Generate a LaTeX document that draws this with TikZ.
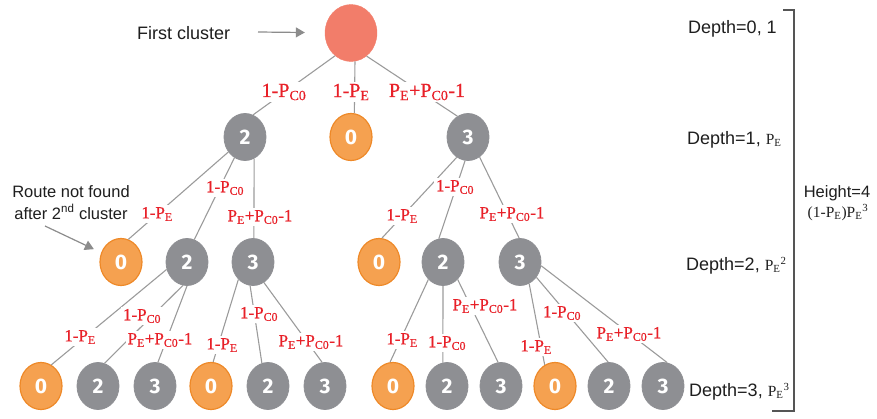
\documentclass[tikz,border=0pt]{standalone}
\usepackage{fontspec}
\setmainfont{Liberation Sans}
\newfontfamily\numfont{Fira Sans}
\newfontfamily\probfont{Liberation Serif}[FakeBold=0.6]
\newfontfamily\formulafont{Liberation Serif}
\usetikzlibrary{shapes.geometric,arrows.meta}
\definecolor{nodegray}{RGB}{142,143,147}
\definecolor{leaforange}{RGB}{245,161,80}
\definecolor{leafedge}{RGB}{238,137,40}
\definecolor{rootred}{RGB}{242,125,106}
\definecolor{edgegray}{RGB}{155,155,155}
\definecolor{probred}{RGB}{232,32,40}
\definecolor{textdark}{RGB}{30,30,30}
\definecolor{bracketgray}{RGB}{85,85,85}
\definecolor{pointergray}{RGB}{140,140,140}
\newcommand\probE{P\textsubscript{E}}
\newcommand\probC{P\textsubscript{C0}}
\newcommand\serifpart[1]{{\formulafont\fontsize{15.5}{15.5}\selectfont #1}}
\begin{document}
\begin{tikzpicture}[x=1pt,y=-1pt,
  cluster/.style={ellipse, minimum width=42pt, minimum height=47pt, inner sep=0pt,
    text=white, font=\numfont\bfseries\fontsize{21}{21}\selectfont},
  relay/.style={cluster, fill=nodegray, draw=nodegray, line width=0.8pt},
  fail/.style={cluster, fill=leaforange, draw=leafedge, line width=1.2pt},
  origin/.style={cluster, fill=rootred, draw=rootred, minimum width=52pt, minimum height=57pt},
  link/.style={draw=edgegray, line width=1.1pt},
  prob/.style={fill=white, inner sep=2pt, text=probred, font=\probfont\fontsize{17}{17}\selectfont},
  probtop/.style={prob, font=\probfont\fontsize{20}{20}\selectfont},
  note/.style={text=textdark, inner sep=0pt, font=\fontsize{18}{18}\selectfont},
  pointer/.style={draw=pointergray, line width=1.2pt, -{Triangle[length=9pt,width=10pt]}}
]
\useasboundingbox (0,0) rectangle (877,418);

% tree of clusters
\node[origin] (r) at (351,33) {};
\node[relay] (a2) at (245,137) {2};
\node[fail]  (a0) at (351,137) {0};
\node[relay] (a3) at (468,137) {3};

\node[fail]  (b0) at (121,262) {0};
\node[relay] (b2) at (187,262) {2};
\node[relay] (b3) at (253,262) {3};
\node[fail]  (c0) at (379,262) {0};
\node[relay] (c2) at (443,262) {2};
\node[relay] (c3) at (520,262) {3};

\node[fail]  (d0) at (41,386) {0};
\node[relay] (d2) at (98,386) {2};
\node[relay] (d3) at (155,386) {3};
\node[fail]  (e0) at (211,386) {0};
\node[relay] (e2) at (268,386) {2};
\node[relay] (e3) at (325,386) {3};
\node[fail]  (f0) at (393,386) {0};
\node[relay] (f2) at (447,386) {2};
\node[relay] (f3) at (501,386) {3};
\node[fail]  (g0) at (555,386) {0};
\node[relay] (g2) at (609,386) {2};
\node[relay] (g3) at (663,386) {3};

% branches
\draw[link] (r.-125) -- (a2.70);
\draw[link] (r.-82) -- (a0.82);
\draw[link] (r.-56) -- (a3.117);
\draw[link] (a2.-138) -- (b0.72);
\draw[link] (a2.-117) -- (b2.72);
\draw[link] (a2.-67) -- (b3.88);
\draw[link] (a3.-119) -- (c0.83);
\draw[link] (a3.-97) -- (c2.100);
\draw[link] (a3.-60) -- (c3.92);
\draw[link] (b2.-160) -- (d0.64);
\draw[link] (b2.-100) -- (d2.74);
\draw[link] (b2.-90) -- (d3.83);
\draw[link] (b3.-130) -- (e0.85);
\draw[link] (b3.-97) -- (e2.105);
\draw[link] (b3.-62) -- (e3.97);
\draw[link] (c2.-130) -- (f0.97);
\draw[link] (c2.-90) -- (f2.100);
\draw[link] (c2.-50) -- (f3.97);
\draw[link] (c3.-67) -- (g0.116);
\draw[link] (c3.-43) -- (g2.92);
\draw[link] (c3.-10) -- (g3.80);

% branch probabilities
\node[probtop] (pr2) at (284,92) {1-\probC};
\node[probtop] (pr0) at (351,92) {1-\probE};
\node[probtop] (pr3) at (427,92) {\probE+\probC-1};
\node[prob] (pa0) at (157,214) {1-\probE};
\node[prob] (pa2) at (225,188) {1-\probC};
\node[prob] (pa3) at (260,217) {\probE+\probC-1};
\node[prob] (pc0) at (402,216) {1-\probE};
\node[prob] (pc2) at (455,187) {1-\probC};
\node[prob] (pc3) at (512,214) {\probE+\probC-1};
\node[prob] (pd0) at (80,337) {1-\probE};
\node[prob] (pd2) at (142,316) {1-\probC};
\node[prob] (pd3) at (160,340) {\probE+\probC-1};
\node[prob] (pe0) at (222,345) {1-\probE};
\node[prob] (pe2) at (259,314) {1-\probC};
\node[prob] (pe3) at (311,342) {\probE+\probC-1};
\node[prob] (pf0) at (402,340) {1-\probE};
\node[prob] (pf2) at (447,343) {1-\probC};
\node[prob] (pf3) at (485,306) {\probE+\probC-1};
\node[prob] (pg0) at (536,347) {1-\probE};
\node[prob] (pg2) at (562,313) {1-\probC};
\node[prob] (pg3) at (629,334) {\probE+\probC-1};

% annotations on the left
\node[note, anchor=base west] (first) at (137,39) {First cluster};
\coordinate (firsttail) at (258,32);
\draw[pointer, shorten >=20pt] (firsttail) -- (r);

\node[note, anchor=base, font=\fontsize{16.5}{16.5}\selectfont] (route1) at (71,197) {Route not found};
\node[note, anchor=base, font=\fontsize{16.5}{16.5}\selectfont] (route2) at (71,219) {after 2\textsuperscript{nd} cluster};
\coordinate (routetail) at (45,226);
\draw[pointer, shorten >=8pt] (routetail) -- (b0);

% depth probabilities on the right
\node[note, anchor=base west] (dep0) at (688,33) {Depth=0, 1};
\node[note, anchor=base west] (dep1) at (687,144) {Depth=1, \serifpart{\probE}};
\node[note, anchor=base west] (dep2) at (686,270) {Depth=2, \serifpart{\probE\textsuperscript{2}}};
\node[note, anchor=base west] (dep3) at (689,396) {Depth=3, \serifpart{\probE\textsuperscript{3}}};

\draw[bracketgray, line width=1.5pt] (783,10) -- (794,10) -- (794,411) -- (772,411);

\node[note, anchor=base, font=\fontsize{16.5}{16.5}\selectfont] (height) at (837,197) {Height=4};
\node[note, anchor=base] (heightprob) at (838,217) {\serifpart{(1-\probE)\probE\textsuperscript{3}}};
\end{tikzpicture}
\end{document}
